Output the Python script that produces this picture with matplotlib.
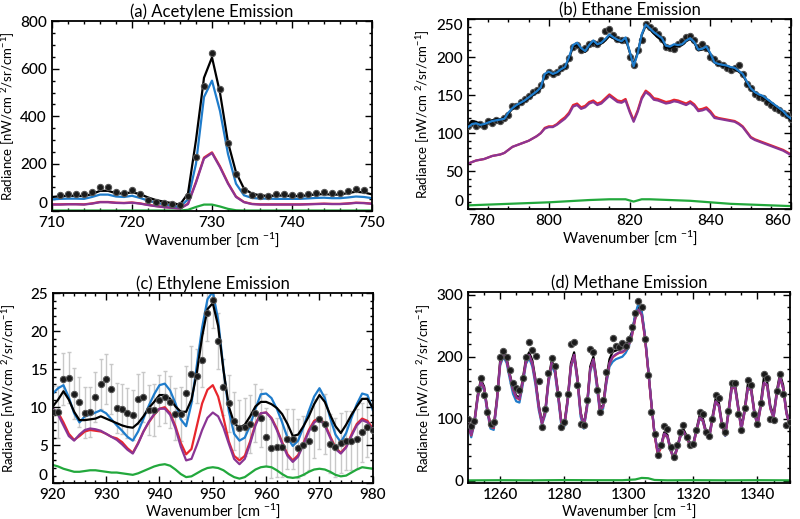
import matplotlib
matplotlib.use('Agg')
import matplotlib.pyplot as plt
from matplotlib.ticker import MultipleLocator

plt.rcParams['font.family'] = ['Lato', 'DejaVu Sans']
plt.rcParams['font.weight'] = 'medium'
plt.rcParams['mathtext.fontset'] = 'custom'
plt.rcParams['mathtext.rm'] = 'Lato:medium'
plt.rcParams['mathtext.it'] = 'Lato:italic'

# colours of the model curves
C_BLUE = '#1f7ccb'
C_RED = '#e8262d'
C_PURPLE = '#8a3594'
C_GREEN = '#22a83c'

# ---------------- (a) Acetylene ----------------
wn_a = list(range(710, 751))
black_a = [60, 63, 65, 65, 64, 72, 86, 86, 76, 74, 80, 72, 58, 47, 40, 34, 28, 75, 300, 562,
           648, 499, 290, 164, 95, 74, 67, 64, 66, 66, 64, 64, 67, 71, 72, 70, 70, 77, 82, 79, 71]
blue_a = [50, 52, 53, 53, 52, 60, 70, 70, 62, 60, 65, 56, 45, 36, 29, 23, 18, 50, 200, 481,
          550, 422, 241, 116, 67, 56, 53, 53, 52, 52, 52, 52, 54, 56, 57, 55, 55, 58, 62, 60, 55]
red_a = [29, 29, 30, 30, 29, 33, 39, 39, 36, 35, 37, 33, 27, 22, 18, 15, 12, 32, 124, 226,
         248, 189, 119, 62, 39, 31, 29, 29, 29, 29, 29, 29, 30, 31, 32, 31, 31, 33, 36, 35, 32]
purple_a = [28, 28, 29, 29, 28, 32, 38, 38, 35, 34, 36, 32, 26, 21, 17, 14, 11, 30, 120, 222,
            245, 185, 116, 60, 38, 30, 28, 28, 28, 28, 28, 28, 29, 30, 31, 30, 30, 32, 35, 34, 31]
green_a = [3, 3, 3, 3, 3, 3, 3, 3, 3, 3, 3, 3, 3, 3, 3, 3, 3, 6, 18, 28,
           28, 20, 10, 4, 3, 3, 3, 3, 3, 3, 3, 3, 3, 3, 3, 3, 3, 3, 3, 3, 3]
obs_wn_a = list(range(711, 750))
obs_a = [68, 71, 71, 71, 81, 102, 102, 81, 77, 88, 74, 49, 39, 35, 29, 28, 63,
         227, 527, 666, 513, 286, 155, 88, 70, 64, 63, 71, 71, 68, 68, 74, 78, 79, 77, 77, 85, 92, 88]

# ---------------- (b) Ethane ----------------
wn_b = list(range(780, 861))
black_b = [110, 116, 115, 112, 111, 114, 117, 118, 118, 120,
           126, 132, 136, 139, 142, 146, 150, 154, 159, 176,
           180, 177, 179, 183, 186, 198, 214, 217, 211, 207,
           215, 220, 216, 218, 222, 228, 225, 222, 220, 225,
           207, 190, 206, 229, 242, 237, 231, 226, 222, 213,
           212, 215, 215, 216, 221, 224, 219, 209, 210, 213,
           204, 193, 190, 189, 188, 186, 185, 181, 177, 167,
           158, 153, 150, 148, 144, 140, 136, 132, 128, 122, 117]
blue_b = [108, 112, 113, 111, 112, 114, 116, 117, 118, 119,
          127, 133, 137, 140, 143, 147, 151, 155, 160, 178,
          181, 178, 180, 184, 187, 200, 216, 219, 212, 208,
          216, 222, 217, 219, 224, 230, 226, 223, 221, 226,
          208, 188, 205, 230, 243, 238, 233, 229, 225, 215,
          214, 217, 216, 217, 222, 225, 220, 210, 211, 214,
          205, 193, 191, 190, 189, 187, 186, 182, 178, 168,
          159, 154, 151, 149, 145, 141, 137, 133, 129, 123, 119]
red_b = [60, 62, 64, 65, 66, 68, 70, 71, 72, 74,
         78, 82, 84, 86, 88, 90, 93, 96, 100, 107,
         109, 109, 112, 117, 121, 127, 137, 139, 134, 136,
         141, 143, 139, 141, 146, 151, 147, 143, 142, 145,
         130, 117, 130, 147, 156, 152, 146, 145, 143, 141,
         142, 144, 143, 141, 139, 142, 138, 131, 132, 134,
         129, 122, 120, 119, 118, 117, 116, 113, 109, 102,
         95, 92, 90, 88, 86, 84, 82, 80, 78, 75, 72]
purple_b = [60, 62, 64, 65, 66, 68, 70, 71, 72, 74,
            78, 82, 84, 86, 88, 90, 93, 96, 100, 106,
            108, 108, 111, 115, 119, 125, 135, 137, 132, 134,
            139, 141, 137, 139, 144, 149, 145, 141, 140, 143,
            128, 115, 128, 145, 154, 150, 144, 143, 141, 139,
            140, 142, 141, 139, 137, 140, 136, 129, 130, 132,
            127, 120, 119, 118, 117, 116, 115, 112, 108, 101,
            94, 91, 89, 87, 85, 83, 81, 79, 77, 74, 71]
green_wn_b = [780, 790, 800, 810, 815, 819, 821, 823, 825, 830, 835, 840, 845, 850, 855, 860]
green_b = [5, 7, 9, 12, 13, 13, 10, 13, 13, 12, 11, 9, 7, 6, 5, 4]
obs_b = [110, 113, 110, 112, 109, 116, 114, 117, 116, 120,
         124, 136, 136, 141, 145, 149, 154, 157, 163, 175,
         180, 178, 181, 186, 188, 199, 214, 216, 210, 212,
         218, 219, 218, 223, 235, 237, 229, 224, 222, 222,
         200, 190, 210, 222, 244, 240, 236, 230, 224, 213,
         212, 211, 218, 221, 226, 228, 222, 214, 218, 212,
         200, 198, 192, 190, 186, 183, 186, 190, 178, 165,
         160, 152, 148, 146, 141, 137, 133, 131, 127, 124, 118]

# ---------------- (c) Ethylene ----------------
wn_c = list(range(920, 981))
black_c = [10.1, 11.0, 12.1, 11.0, 9.4, 8.3, 8.3, 8.4, 8.5, 8.8,
           8.5, 8.2, 7.9, 7.6, 7.4, 7.3, 7.9, 8.8, 9.9, 10.7,
           11.6, 11.6, 11.1, 10.1, 9.4, 9.4, 11.0, 14.5, 19.3, 22.9,
           23.7, 20.7, 14.9, 10.1, 7.9, 7.3, 7.7, 8.8, 10.1, 10.7,
           10.7, 10.4, 9.9, 9.1, 7.8, 6.2, 6.4, 7.5, 8.8, 10.4,
           11.6, 10.7, 9.0, 7.5, 6.6, 7.7, 9.0, 10.1, 11.1, 11.1, 9.9]
blue_c = [11.8, 12.5, 12.9, 11.3, 9.2, 8.0, 8.8, 9.0, 9.3, 9.6,
          9.2, 8.4, 7.6, 6.9, 6.1, 5.6, 6.8, 8.5, 10.2, 11.7,
          12.9, 13.1, 12.2, 10.5, 8.4, 7.5, 10.5, 15.5, 20.5, 24.2,
          25.2, 21.5, 15.0, 9.5, 6.5, 5.6, 6.0, 7.6, 9.8, 11.7,
          11.8, 11.2, 9.8, 8.0, 6.0, 4.9, 5.6, 7.4, 9.5, 11.4,
          12.5, 11.2, 8.6, 6.4, 5.4, 6.6, 8.6, 10.4, 11.8, 11.6, 9.6]
red_c = [9.6, 9.3, 8.0, 6.5, 5.7, 6.2, 6.8, 7.0, 6.9, 6.8,
         6.5, 6.1, 5.9, 5.4, 4.6, 4.0, 5.3, 6.8, 8.0, 9.0,
         9.8, 10.0, 9.2, 7.5, 5.3, 3.8, 4.5, 7.5, 10.5, 12.3,
         12.9, 11.4, 8.6, 5.5, 3.6, 3.0, 3.6, 5.5, 7.8, 9.2,
         9.3, 8.6, 7.2, 5.4, 3.8, 3.0, 3.7, 5.3, 7.0, 8.2,
         8.6, 7.8, 6.2, 4.7, 4.0, 4.8, 6.4, 7.8, 8.5, 8.2, 7.2]
purple_c = [9.9, 9.0, 7.6, 6.2, 5.6, 6.4, 7.0, 7.2, 7.1, 6.9,
            6.5, 6.1, 5.7, 5.1, 4.4, 3.9, 5.2, 6.8, 8.1, 9.1,
            9.8, 9.8, 9.0, 7.2, 4.8, 3.0, 3.2, 5.0, 7.0, 8.6,
            9.3, 8.8, 7.3, 5.2, 3.2, 2.5, 3.2, 5.2, 7.6, 9.2,
            9.3, 8.5, 7.0, 5.2, 3.6, 2.8, 3.5, 5.1, 6.8, 8.0,
            8.4, 7.6, 6.0, 4.5, 3.9, 4.7, 6.2, 7.6, 8.3, 8.0, 7.0]
green_c = [2.4, 2.2, 1.9, 1.7, 1.5, 1.5, 1.6, 1.7, 1.7, 1.6,
           1.5, 1.4, 1.4, 1.3, 1.2, 1.1, 1.3, 1.6, 1.9, 2.2,
           2.4, 2.5, 2.3, 1.8, 1.2, 0.8, 0.9, 1.3, 1.7, 2.0,
           2.1, 2.0, 1.7, 1.2, 0.8, 0.6, 0.8, 1.3, 1.8, 2.1,
           2.2, 2.1, 1.7, 1.2, 0.8, 0.7, 0.8, 1.1, 1.5, 1.8,
           1.9, 1.8, 1.5, 1.1, 0.9, 1.0, 1.4, 1.8, 2.1, 2.0, 1.9]
obs_c = [9.4, 9.4, 13.7, 13.9, 11.8, 10.7, 9.3, 9.4, 11.3, 13.1,
         13.7, 12.4, 9.9, 9.8, 9.2, 9.0, 11.1, 11.3, 9.6, 9.6,
         10.9, 11.3, 10.7, 9.1, 9.1, 11.9, 14.4, 14.1, 16.2, 22.4,
         24.1, 18.7, 12.7, 10.5, 8.2, 7.2, 7.4, 7.8, 9.2, 8.6,
         6.1, 4.6, 4.7, 4.7, 5.8, 5.8, 4.6, 5.0, 5.6, 7.2,
         8.4, 7.8, 5.2, 4.7, 5.3, 5.6, 5.6, 5.8, 6.7, 7.4, 7.0]
err_c = [3.4, 3.4, 3.4, 3.4, 3.4, 3.3, 3.3, 3.3, 3.3, 3.3,
         3.3, 3.3, 3.3, 3.3, 3.3, 3.3, 3.3, 3.3, 3.3, 3.4,
         3.4, 3.4, 3.4, 3.4, 3.5, 3.5, 3.6, 3.6, 3.6, 3.7,
         3.7, 3.7, 3.7, 3.7, 3.8, 3.8, 3.8, 3.8, 3.8, 3.8,
         3.8, 3.9, 3.9, 3.9, 3.9, 3.9, 3.9, 3.9, 3.9, 3.9,
         3.9, 3.9, 3.9, 3.9, 3.9, 3.9, 3.9, 3.9, 3.9, 3.9, 3.9]

# ---------------- (d) Methane ----------------
wn_d = list(range(1250, 1351))
black_d = [97, 76, 97, 138, 163, 152, 116, 89, 88, 133,
           194, 208, 198, 172, 150, 137, 134, 163, 196, 207,
           194, 163, 122, 94, 112, 163, 193, 183, 142, 96,
           94, 133, 189, 207, 168, 111, 89, 122, 184, 200,
           163, 116, 122, 164, 196, 208, 210, 212, 214, 218,
           226, 240, 266, 282, 272, 234, 181, 126, 76, 46,
           56, 78, 74, 51, 37, 53, 74, 83, 72, 61,
           59, 82, 105, 101, 80, 72, 103, 132, 126, 92,
           76, 113, 155, 157, 121, 86, 115, 155, 152, 114,
           92, 124, 166, 160, 121, 105, 144, 172, 154, 112, 94]
blue_d = [92, 70, 92, 132, 158, 146, 110, 84, 82, 126,
          186, 200, 190, 164, 140, 128, 126, 154, 188, 198,
          184, 154, 114, 90, 106, 156, 186, 174, 134, 90,
          88, 126, 182, 200, 160, 104, 84, 116, 176, 192,
          154, 110, 116, 156, 184, 192, 196, 198, 200, 206,
          216, 238, 268, 286, 274, 236, 182, 126, 76, 46,
          54, 74, 70, 48, 35, 50, 70, 78, 68, 58,
          56, 78, 100, 96, 76, 68, 98, 126, 120, 88,
          72, 108, 148, 150, 116, 82, 110, 148, 146, 110,
          88, 118, 156, 153, 116, 101, 138, 166, 148, 108, 90]
red_d = [94, 73, 94, 134, 159, 149, 114, 87, 85, 129,
         189, 204, 194, 169, 147, 134, 131, 159, 191, 202,
         189, 159, 119, 92, 109, 159, 189, 179, 139, 94,
         91, 129, 184, 202, 164, 109, 87, 119, 179, 195,
         159, 114, 119, 159, 189, 199, 203, 206, 207, 211,
         219, 234, 261, 275, 267, 231, 179, 124, 74, 42,
         53, 75, 71, 49, 35, 51, 71, 79, 69, 58,
         56, 79, 101, 97, 77, 69, 99, 127, 121, 89,
         73, 109, 149, 151, 117, 83, 111, 149, 147, 111,
         89, 119, 157, 154, 117, 102, 139, 167, 149, 109, 91]
purple_d = [95, 74, 95, 135, 160, 150, 115, 88, 86, 130,
            190, 205, 195, 170, 148, 135, 132, 160, 192, 203,
            190, 160, 120, 93, 110, 160, 190, 180, 140, 95,
            92, 130, 185, 203, 165, 110, 88, 120, 180, 196,
            160, 115, 120, 160, 190, 200, 204, 207, 208, 212,
            220, 235, 262, 276, 268, 232, 180, 125, 75, 45,
            55, 76, 72, 50, 36, 52, 72, 80, 70, 60,
            58, 80, 102, 98, 78, 70, 100, 128, 122, 90,
            74, 110, 150, 152, 118, 84, 112, 150, 148, 112,
            90, 120, 158, 155, 118, 103, 140, 168, 150, 110, 92]
green_wn_d = [1250, 1260, 1270, 1280, 1290, 1298, 1302, 1304, 1306, 1308, 1312, 1320, 1330, 1340, 1350]
green_d = [0.5, 0.8, 0.6, 1.0, 0.8, 0.8, 2.0, 4.5, 4.0, 1.2, 0.6, 0.8, 0.6, 0.8, 0.6]
obs_d = [100, 88, 97, 148, 165, 138, 110, 92, 95, 150,
         200, 209, 200, 178, 157, 150, 146, 166, 200, 224,
         210, 201, 160, 87, 115, 173, 198, 185, 140, 87,
         95, 140, 220, 223, 155, 92, 90, 130, 213, 208,
         147, 110, 130, 175, 210, 230, 218, 215, 222, 218,
         228, 248, 270, 290, 280, 228, 170, 110, 75, 42,
         58, 88, 84, 55, 38, 58, 78, 90, 70, 58,
         60, 82, 110, 108, 78, 72, 100, 138, 134, 90,
         78, 112, 158, 158, 108, 82, 118, 162, 155, 108,
         92, 125, 172, 165, 100, 98, 145, 172, 140, 90, 95]

ylabel = r'Radiance [nW/cm $^{2}$/sr/cm$^{-1}$]'
xlabel = r'Wavenumber [cm $^{-1}$]'

fig = plt.figure(figsize=(8.0, 5.19), dpi=100)

panels = [
    # rect, title, xlim, ylim, xmajor, xminor, ymajor, yminor
    ([0.065, 0.593, 0.400, 0.366], '(a) Acetylene Emission', (710, 750), (0, 800), 10, 2, 200, 50),
    ([0.585, 0.597, 0.404, 0.366], '(b) Ethane Emission', (780, 860), (0, 250), 20, 5, 50, 10),
    ([0.066, 0.069, 0.400, 0.366], '(c) Ethylene Emission', (920, 980), (0, 25), 10, 2, 5, 1),
    ([0.585, 0.069, 0.402, 0.368], '(d) Methane Emission', (1250, 1350), (-4, 304), 20, 5, 100, 20),
]


def set_label_align(axis, value, **kw):
    # nudge the tick label sitting at `value` (used at the axis corners)
    locs = list(axis.get_majorticklocs())
    ticks = axis.get_major_ticks(len(locs))
    for loc, t in zip(locs, ticks):
        if abs(loc - value) < 1e-6:
            t.label1.set(**kw)


axes = []
for i, (rect, title, xl, yl, xmaj, xmin, ymaj, ymin) in enumerate(panels):
    ax = fig.add_axes(rect)
    ax.set_xlim(xl)
    ax.set_ylim(yl)
    ax.set_title(title, fontsize=12, pad=3)
    ax.set_xlabel(xlabel, fontsize=10.5)
    ax.set_ylabel(ylabel, fontsize=9.5)
    ax.xaxis.set_major_locator(MultipleLocator(xmaj))
    ax.xaxis.set_minor_locator(MultipleLocator(xmin))
    ax.yaxis.set_major_locator(MultipleLocator(ymaj))
    ax.yaxis.set_minor_locator(MultipleLocator(ymin))
    ax.tick_params(which='both', direction='in', top=True, right=True, labelsize=11, width=1.0)
    ax.tick_params(which='major', length=5)
    ax.tick_params(which='minor', length=2.5)
    for sp in ax.spines.values():
        sp.set_linewidth(1.3)
    ax.yaxis.set_label_coords(-0.11, 0.5)
    ax.xaxis.set_label_coords(0.5, -0.1 if i < 2 else -0.097)
    if yl[0] == 0:
        set_label_align(ax.yaxis, 0, va='bottom')
    axes.append(ax)

set_label_align(axes[1].yaxis, 250, va='top')
set_label_align(axes[1].xaxis, 780, ha='left')
set_label_align(axes[1].xaxis, 860, ha='right')

lw = 1.6
dot = dict(marker='o', ms=4.5, mfc='#1a1a1a', mec='#555555', mew=0.8, ls='none', zorder=6)

ax = axes[0]
ax.plot(wn_a, green_a, color=C_GREEN, lw=lw)
ax.plot(wn_a, red_a, color=C_RED, lw=lw)
ax.plot(wn_a, purple_a, color=C_PURPLE, lw=lw)
ax.plot(wn_a, blue_a, color=C_BLUE, lw=lw)
ax.plot(wn_a, black_a, color='black', lw=lw)
ax.plot(obs_wn_a, obs_a, **dot)

ax = axes[1]
ax.plot(green_wn_b, green_b, color=C_GREEN, lw=lw)
ax.plot(wn_b, red_b, color=C_RED, lw=lw)
ax.plot(wn_b, purple_b, color=C_PURPLE, lw=lw)
ax.plot(wn_b, obs_b, **dot)
ax.plot(wn_b, black_b, color='black', lw=lw, zorder=7)
ax.plot(wn_b, blue_b, color=C_BLUE, lw=lw, zorder=7)

ax = axes[2]
ax.errorbar(wn_c, obs_c, yerr=err_c, fmt='none', ecolor='#c8c8c8', elinewidth=1.0,
            capsize=1.5, capthick=1.0, zorder=1)
ax.plot(wn_c, green_c, color=C_GREEN, lw=lw)
ax.plot(wn_c, red_c, color=C_RED, lw=lw)
ax.plot(wn_c, purple_c, color=C_PURPLE, lw=lw)
ax.plot(wn_c, blue_c, color=C_BLUE, lw=lw)
ax.plot(wn_c, black_c, color='black', lw=lw)
ax.plot(wn_c, obs_c, **dot)

ax = axes[3]
ax.plot(green_wn_d, green_d, color=C_GREEN, lw=lw)
ax.plot(wn_d, black_d, color='black', lw=lw)
ax.plot(wn_d, blue_d, color=C_BLUE, lw=lw)
ax.plot(wn_d, red_d, color=C_RED, lw=lw)
ax.plot(wn_d, purple_d, color=C_PURPLE, lw=lw)
ax.plot(wn_d, obs_d, **dot)

fig.savefig('out.png', dpi=100)
